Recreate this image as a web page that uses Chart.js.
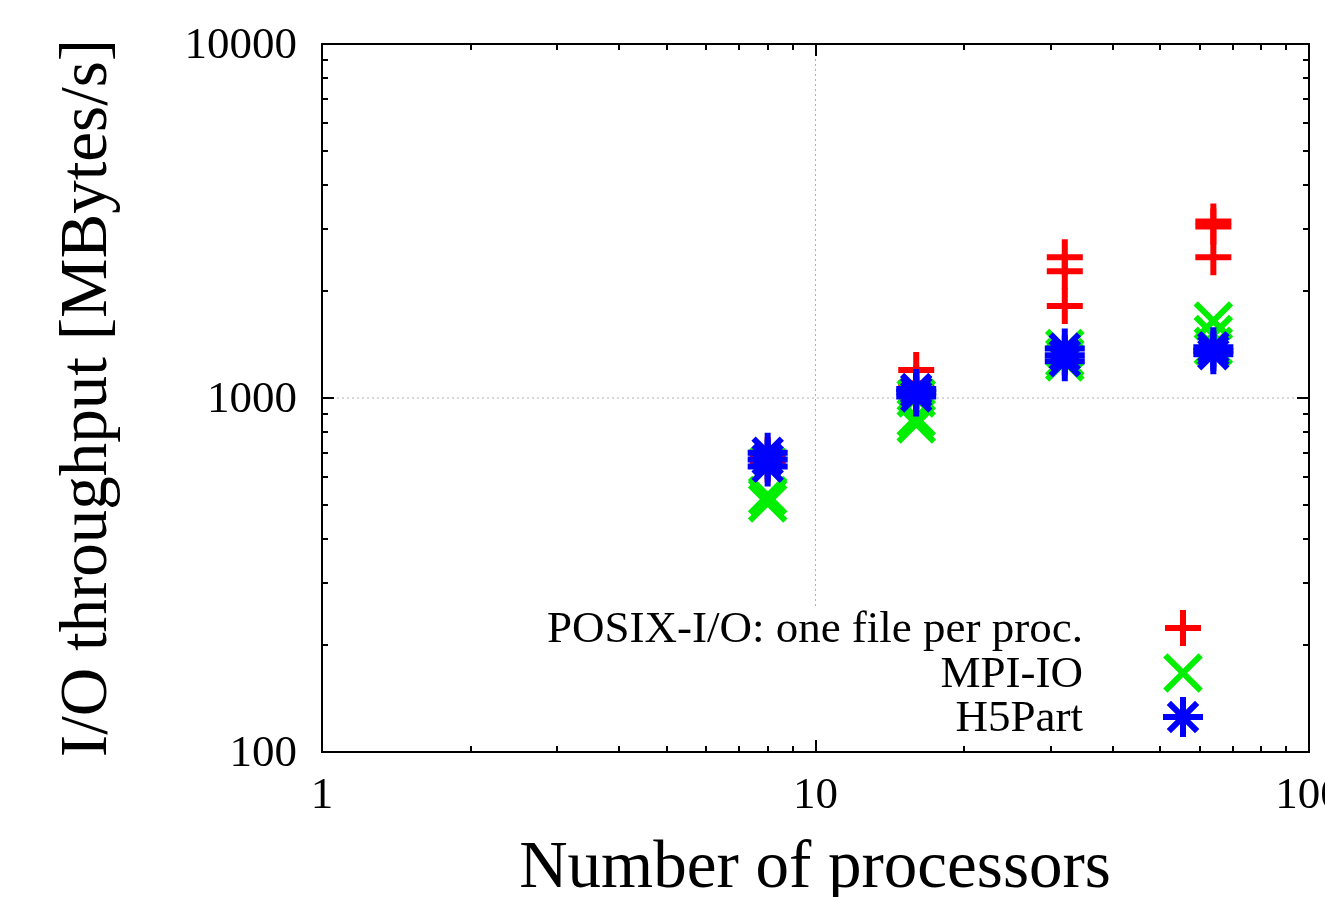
<!DOCTYPE html>
<html>
<head>
<meta charset="utf-8">
<script src="https://cdn.jsdelivr.net/npm/chart.js@4"></script>
<style>
  html, body { margin: 0; padding: 0; background: #fff; overflow: hidden; }
  #ioChart { display: block; }
</style>
</head>
<body>
<canvas id="ioChart" width="1325" height="897"></canvas>
<script>
// Data (several runs per processor count)
const posixProcs = [8, 8, 16, 16, 32, 32, 32, 64, 64, 64];
const posixRate  = [650, 690, 1200, 1100, 2500, 2280, 1820, 3150, 3050, 2500];

const mpiProcs = [8, 8, 8, 16, 16, 16, 32, 32, 32, 64, 64, 64];
const mpiRate  = [505, 530, 640, 845, 880, 1000, 1264, 1300, 1380, 1650, 1510, 1400];

const h5Procs = [8, 8, 8, 16, 16, 16, 32, 32, 32, 64, 64, 64];
const h5Rate  = [640, 670, 700, 1010, 1040, 1060, 1270, 1320, 1380, 1330, 1360, 1390];

const xTickLabels = ['1', '10', '100'];
const yTickLabels = ['100', '1000', '10000'];
const seriesNames = ['POSIX-I/O: one file per proc.', 'MPI-IO', 'H5Part'];

const FONT = '"Liberation Serif", "Times New Roman", serif';

function toPoints(xs, ys) {
    return xs.map((x, i) => ({ x: x, y: ys[i] }));
}

// key symbol, same shapes as the chart's point styles
function keySymbol(ctx, style, r, cx, cy) {
    ctx.beginPath();
    if (style === 'cross' || style === 'star') {
        ctx.moveTo(cx - r, cy); ctx.lineTo(cx + r, cy);
        ctx.moveTo(cx, cy - r); ctx.lineTo(cx, cy + r);
    }
    if (style === 'crossRot' || style === 'star') {
        const d = r * Math.SQRT1_2;
        ctx.moveTo(cx - d, cy - d); ctx.lineTo(cx + d, cy + d);
        ctx.moveTo(cx - d, cy + d); ctx.lineTo(cx + d, cy - d);
    }
    ctx.stroke();
}

// Axes frame, gnuplot style ticks, labels and key
const frame = {
    id: 'frame',
    beforeDatasetsDraw(chart) {
        const { ctx, chartArea: a, scales: { x, y } } = chart;
        ctx.save();
        ctx.strokeStyle = '#b0b0b0';
        ctx.lineWidth = 1;
        ctx.setLineDash([2, 3]);
        // grid only at inner decades
        const gx = x.getPixelForValue(10);
        ctx.beginPath();
        ctx.moveTo(gx, a.top);
        ctx.lineTo(gx, a.bottom);
        const gy = y.getPixelForValue(1000);
        ctx.moveTo(a.left, gy);
        ctx.lineTo(a.right, gy);
        ctx.stroke();
        ctx.setLineDash([]);
        // opaque key box
        ctx.fillStyle = '#fff';
        ctx.fillRect(540, 607, a.right - 540, a.bottom - 607);
        ctx.restore();
    },
    afterDatasetsDraw(chart) {
        const { ctx, chartArea: a, scales: { x, y } } = chart;
        ctx.save();
        ctx.strokeStyle = '#000';
        ctx.lineWidth = 2;
        ctx.strokeRect(a.left, a.top, a.right - a.left, a.bottom - a.top);

        // ticks
        ctx.beginPath();
        for (let d = 1; d <= 10; d *= 10) {
            for (let m = 1; m <= 9; m++) {
                const v = d * m;
                const len = m === 1 ? 12 : 6;
                const px = Math.round(x.getPixelForValue(v));
                if (m !== 1 || v > 1) {
                    ctx.moveTo(px, a.bottom); ctx.lineTo(px, a.bottom - len);
                    ctx.moveTo(px, a.top); ctx.lineTo(px, a.top + len);
                }
                const yv = v * 100;
                const py = Math.round(y.getPixelForValue(yv));
                if (m !== 1 || yv > 100) {
                    ctx.moveTo(a.left, py); ctx.lineTo(a.left + len, py);
                    ctx.moveTo(a.right, py); ctx.lineTo(a.right - len, py);
                }
            }
        }
        ctx.stroke();

        // tick labels
        ctx.fillStyle = '#000';
        ctx.font = '45px ' + FONT;
        ctx.textAlign = 'right';
        ctx.textBaseline = 'middle';
        yTickLabels.forEach(t => {
            ctx.fillText(t, a.left - 25, y.getPixelForValue(Number(t)) + 2);
        });
        ctx.textAlign = 'center';
        ctx.textBaseline = 'alphabetic';
        xTickLabels.forEach(t => {
            ctx.fillText(t, x.getPixelForValue(Number(t)), a.bottom + 56);
        });

        // axis titles
        ctx.font = '67px ' + FONT;
        ctx.fillText('Number of processors', 815, 887);
        ctx.save();
        ctx.translate(106, (a.top + a.bottom) / 2);
        ctx.rotate(-Math.PI / 2);
        ctx.fillText('I/O throughput [MBytes/s]', 0, 0);
        ctx.restore();

        // key
        ctx.font = '45px ' + FONT;
        ctx.textAlign = 'right';
        ctx.textBaseline = 'middle';
        const rows = [628, 673, 717];
        chart.data.datasets.forEach((ds, i) => {
            ctx.fillStyle = '#000';
            ctx.fillText(seriesNames[i], 1083, rows[i] + 2);
            ctx.strokeStyle = ds.borderColor;
            ctx.lineWidth = ds.borderWidth;
            keySymbol(ctx, ds.pointStyle, ds.pointRadius, 1183, rows[i]);
        });
        ctx.restore();
    }
};

const ctx = document.getElementById('ioChart').getContext('2d');
new Chart(ctx, {
    type: 'scatter',
    data: {
        datasets: [{
            label: seriesNames[0],
            data: toPoints(posixProcs, posixRate),
            pointStyle: 'cross',
            pointRadius: 18,
            borderColor: '#ff0000',
            backgroundColor: '#ff0000',
            borderWidth: 6,
            order: 3
        }, {
            label: seriesNames[1],
            data: toPoints(mpiProcs, mpiRate),
            pointStyle: 'crossRot',
            pointRadius: 25,
            borderColor: '#00ee00',
            backgroundColor: '#00ee00',
            borderWidth: 6,
            order: 2
        }, {
            label: seriesNames[2],
            data: toPoints(h5Procs, h5Rate),
            pointStyle: 'star',
            pointRadius: 20,
            borderColor: '#0000ff',
            backgroundColor: '#0000ff',
            borderWidth: 6,
            order: 1
        }]
    },
    options: {
        responsive: false,
        devicePixelRatio: 1,
        animation: false,
        events: [],
        layout: { autoPadding: false, padding: { left: 322, right: 16, top: 44, bottom: 145 } },
        plugins: { legend: { display: false }, tooltip: { enabled: false } },
        scales: {
            x: { type: 'logarithmic', min: 1, max: 100, display: false },
            y: { type: 'logarithmic', min: 100, max: 10000, display: false }
        }
    },
    plugins: [frame]
});
</script>
</body>
</html>
